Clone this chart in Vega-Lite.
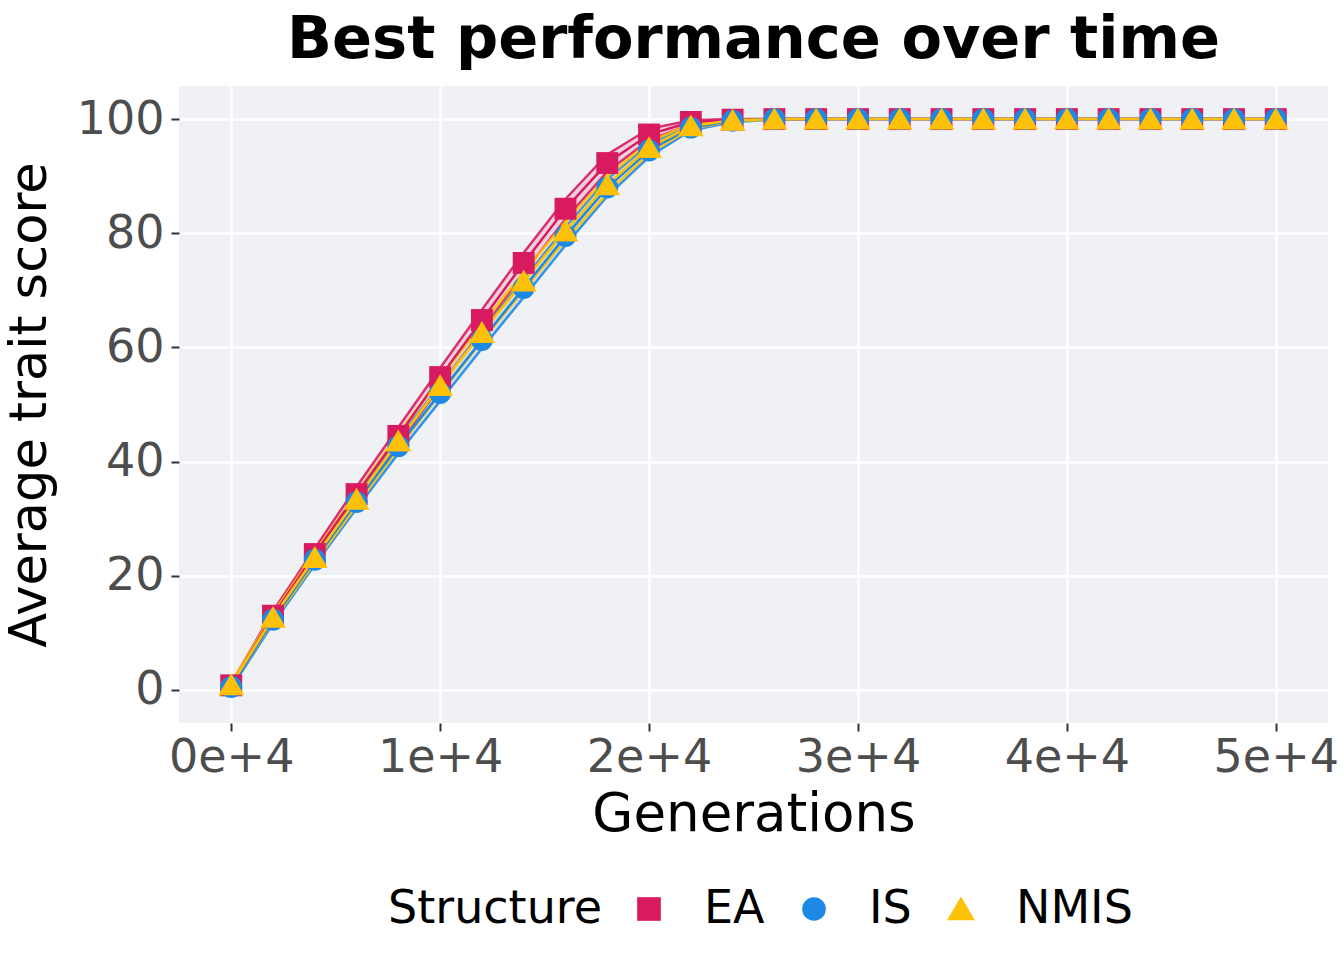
{
  "$schema": "https://vega.github.io/schema/vega-lite/v6.json",
  "autosize": {"type": "none"},
  "width": 1149,
  "height": 637,
  "padding": {"left": 179, "top": 86, "right": 16, "bottom": 237},
  "background": "white",
  "title": {"text": "Best performance over time", "fontSize": 59, "font": "DejaVu Sans", "fontWeight": "bold", "color": "black", "anchor": "middle", "offset": 16},
  "config": {
    "view": {"fill": "#EFF1F5", "stroke": null},
    "font": "DejaVu Sans",
    "axis": {"domain": false, "grid": true, "gridColor": "white", "gridWidth": 2.5, "tickColor": "#333333", "tickWidth": 2, "tickSize": 8, "labelColor": "#4D4D4D", "labelFontSize": 46, "labelFont": "DejaVu Sans", "titleFont": "DejaVu Sans", "titleFontSize": 51, "titleFontWeight": "normal", "titleColor": "black"},
    "legend": {"orient": "none", "legendX": 209, "legendY": 800, "direction": "horizontal", "titleOrient": "left", "titleFontSize": 46, "titleFontWeight": "normal", "titleColor": "black", "titleFont": "DejaVu Sans", "titleLimit": 600, "labelFontSize": 46, "labelFont": "DejaVu Sans", "labelColor": "black", "labelLimit": 400, "symbolSize": 560, "symbolStrokeWidth": 0, "columnPadding": 26, "labelOffset": 32, "titlePadding": 24}
  },
  "data": {"values": [
    {"s":"EA","g":0,"m":0.8,"lo":0.5,"hi":1.1},
    {"s":"EA","g":2000,"m":13.0,"lo":12.2,"hi":13.8},
    {"s":"EA","g":4000,"m":23.8,"lo":22.8,"hi":24.8},
    {"s":"EA","g":6000,"m":34.3,"lo":33.0,"hi":35.6},
    {"s":"EA","g":8000,"m":44.5,"lo":43.0,"hi":46.0},
    {"s":"EA","g":10000,"m":54.8,"lo":53.2,"hi":56.4},
    {"s":"EA","g":12000,"m":64.8,"lo":63.0,"hi":66.6},
    {"s":"EA","g":14000,"m":74.8,"lo":73.0,"hi":76.6},
    {"s":"EA","g":16000,"m":84.3,"lo":82.5,"hi":86.0},
    {"s":"EA","g":18000,"m":92.3,"lo":90.8,"hi":93.8},
    {"s":"EA","g":20000,"m":97.3,"lo":96.3,"hi":98.3},
    {"s":"EA","g":22000,"m":99.5,"lo":99.1,"hi":99.8},
    {"s":"EA","g":24000,"m":99.9,"lo":99.8,"hi":100},
    {"s":"EA","g":26000,"m":100,"lo":100,"hi":100},
    {"s":"EA","g":28000,"m":100,"lo":100,"hi":100},
    {"s":"EA","g":30000,"m":100,"lo":100,"hi":100},
    {"s":"EA","g":32000,"m":100,"lo":100,"hi":100},
    {"s":"EA","g":34000,"m":100,"lo":100,"hi":100},
    {"s":"EA","g":36000,"m":100,"lo":100,"hi":100},
    {"s":"EA","g":38000,"m":100,"lo":100,"hi":100},
    {"s":"EA","g":40000,"m":100,"lo":100,"hi":100},
    {"s":"EA","g":42000,"m":100,"lo":100,"hi":100},
    {"s":"EA","g":44000,"m":100,"lo":100,"hi":100},
    {"s":"EA","g":46000,"m":100,"lo":100,"hi":100},
    {"s":"EA","g":48000,"m":100,"lo":100,"hi":100},
    {"s":"EA","g":50000,"m":100,"lo":100,"hi":100},
    {"s":"IS","g":0,"m":0.5,"lo":0.3,"hi":0.8},
    {"s":"IS","g":2000,"m":12.3,"lo":11.6,"hi":13.0},
    {"s":"IS","g":4000,"m":22.8,"lo":21.9,"hi":23.7},
    {"s":"IS","g":6000,"m":32.9,"lo":31.8,"hi":34.0},
    {"s":"IS","g":8000,"m":42.7,"lo":41.4,"hi":44.0},
    {"s":"IS","g":10000,"m":52.0,"lo":50.6,"hi":53.4},
    {"s":"IS","g":12000,"m":61.3,"lo":59.8,"hi":62.8},
    {"s":"IS","g":14000,"m":70.4,"lo":68.8,"hi":72.0},
    {"s":"IS","g":16000,"m":79.5,"lo":77.9,"hi":81.1},
    {"s":"IS","g":18000,"m":88.0,"lo":86.5,"hi":89.5},
    {"s":"IS","g":20000,"m":94.5,"lo":93.4,"hi":95.6},
    {"s":"IS","g":22000,"m":98.5,"lo":98.0,"hi":99.0},
    {"s":"IS","g":24000,"m":99.7,"lo":99.5,"hi":99.9},
    {"s":"IS","g":26000,"m":100,"lo":99.9,"hi":100},
    {"s":"IS","g":28000,"m":100,"lo":100,"hi":100},
    {"s":"IS","g":30000,"m":100,"lo":100,"hi":100},
    {"s":"IS","g":32000,"m":100,"lo":100,"hi":100},
    {"s":"IS","g":34000,"m":100,"lo":100,"hi":100},
    {"s":"IS","g":36000,"m":100,"lo":100,"hi":100},
    {"s":"IS","g":38000,"m":100,"lo":100,"hi":100},
    {"s":"IS","g":40000,"m":100,"lo":100,"hi":100},
    {"s":"IS","g":42000,"m":100,"lo":100,"hi":100},
    {"s":"IS","g":44000,"m":100,"lo":100,"hi":100},
    {"s":"IS","g":46000,"m":100,"lo":100,"hi":100},
    {"s":"IS","g":48000,"m":100,"lo":100,"hi":100},
    {"s":"IS","g":50000,"m":100,"lo":100,"hi":100},
    {"s":"NMIS","g":0,"m":0.9,"lo":0.6,"hi":1.2},
    {"s":"NMIS","g":2000,"m":12.7,"lo":12.0,"hi":13.4},
    {"s":"NMIS","g":4000,"m":23.2,"lo":22.3,"hi":24.1},
    {"s":"NMIS","g":6000,"m":33.4,"lo":32.3,"hi":34.5},
    {"s":"NMIS","g":8000,"m":43.6,"lo":42.3,"hi":44.9},
    {"s":"NMIS","g":10000,"m":53.3,"lo":51.9,"hi":54.7},
    {"s":"NMIS","g":12000,"m":62.6,"lo":61.1,"hi":64.1},
    {"s":"NMIS","g":14000,"m":71.6,"lo":70.0,"hi":73.2},
    {"s":"NMIS","g":16000,"m":80.4,"lo":78.8,"hi":82.0},
    {"s":"NMIS","g":18000,"m":88.5,"lo":87.0,"hi":90.0},
    {"s":"NMIS","g":20000,"m":95.0,"lo":94.0,"hi":96.0},
    {"s":"NMIS","g":22000,"m":98.8,"lo":98.3,"hi":99.2},
    {"s":"NMIS","g":24000,"m":99.8,"lo":99.6,"hi":99.95},
    {"s":"NMIS","g":26000,"m":100,"lo":99.9,"hi":100},
    {"s":"NMIS","g":28000,"m":100,"lo":100,"hi":100},
    {"s":"NMIS","g":30000,"m":100,"lo":100,"hi":100},
    {"s":"NMIS","g":32000,"m":100,"lo":100,"hi":100},
    {"s":"NMIS","g":34000,"m":100,"lo":100,"hi":100},
    {"s":"NMIS","g":36000,"m":100,"lo":100,"hi":100},
    {"s":"NMIS","g":38000,"m":100,"lo":100,"hi":100},
    {"s":"NMIS","g":40000,"m":100,"lo":100,"hi":100},
    {"s":"NMIS","g":42000,"m":100,"lo":100,"hi":100},
    {"s":"NMIS","g":44000,"m":100,"lo":100,"hi":100},
    {"s":"NMIS","g":46000,"m":100,"lo":100,"hi":100},
    {"s":"NMIS","g":48000,"m":100,"lo":100,"hi":100},
    {"s":"NMIS","g":50000,"m":100,"lo":100,"hi":100}
  ]},
  "layer": [
    {
      "mark": {"type": "area", "fillOpacity": 0.15, "strokeWidth": 2.5, "strokeOpacity": 0.9},
      "encoding": {
        "x": {"field": "g", "type": "quantitative", "title": "Generations",
          "scale": {"domain": [-2500, 52500], "nice": false, "zero": false},
          "axis": {"values": [0, 10000, 20000, 30000, 40000, 50000], "labelExpr": "datum.value / 10000 + 'e+4'", "labelPadding": 4, "titlePadding": 8, "titleFontSize": 53, "labelFlush": false, "labelOverlap": false}},
        "y": {"field": "lo", "type": "quantitative", "title": "Average trait score",
          "scale": {"domain": [-5.8, 105.8], "nice": false, "zero": false},
          "axis": {"values": [0, 20, 40, 60, 80, 100], "labelPadding": 7, "titlePadding": 20}},
        "y2": {"field": "hi"},
        "fill": {"field": "s", "type": "nominal", "title": "Structure", "scale": {"domain": ["EA", "IS", "NMIS"], "range": ["#D81B60", "#1E88E5", "#FFC107"]}},
        "stroke": {"field": "s", "type": "nominal", "title": "Structure", "scale": {"domain": ["EA", "IS", "NMIS"], "range": ["#D81B60", "#1E88E5", "#FFC107"]}}
      }
    },
    {
      "mark": {"type": "line", "strokeWidth": 2.5},
      "encoding": {
        "x": {"field": "g", "type": "quantitative"},
        "y": {"field": "m", "type": "quantitative"},
        "stroke": {"field": "s", "type": "nominal", "title": "Structure"}
      }
    },
    {
      "mark": {"type": "point", "filled": true, "opacity": 1, "size": 480},
      "encoding": {
        "x": {"field": "g", "type": "quantitative"},
        "y": {"field": "m", "type": "quantitative"},
        "fill": {"field": "s", "type": "nominal", "title": "Structure"},
        "shape": {"field": "s", "type": "nominal", "title": "Structure", "scale": {"domain": ["EA", "IS", "NMIS"], "range": ["square", "circle", "M0,-1.05L1.18,0.95L-1.18,0.95Z"]}}
      }
    }
  ]
}
